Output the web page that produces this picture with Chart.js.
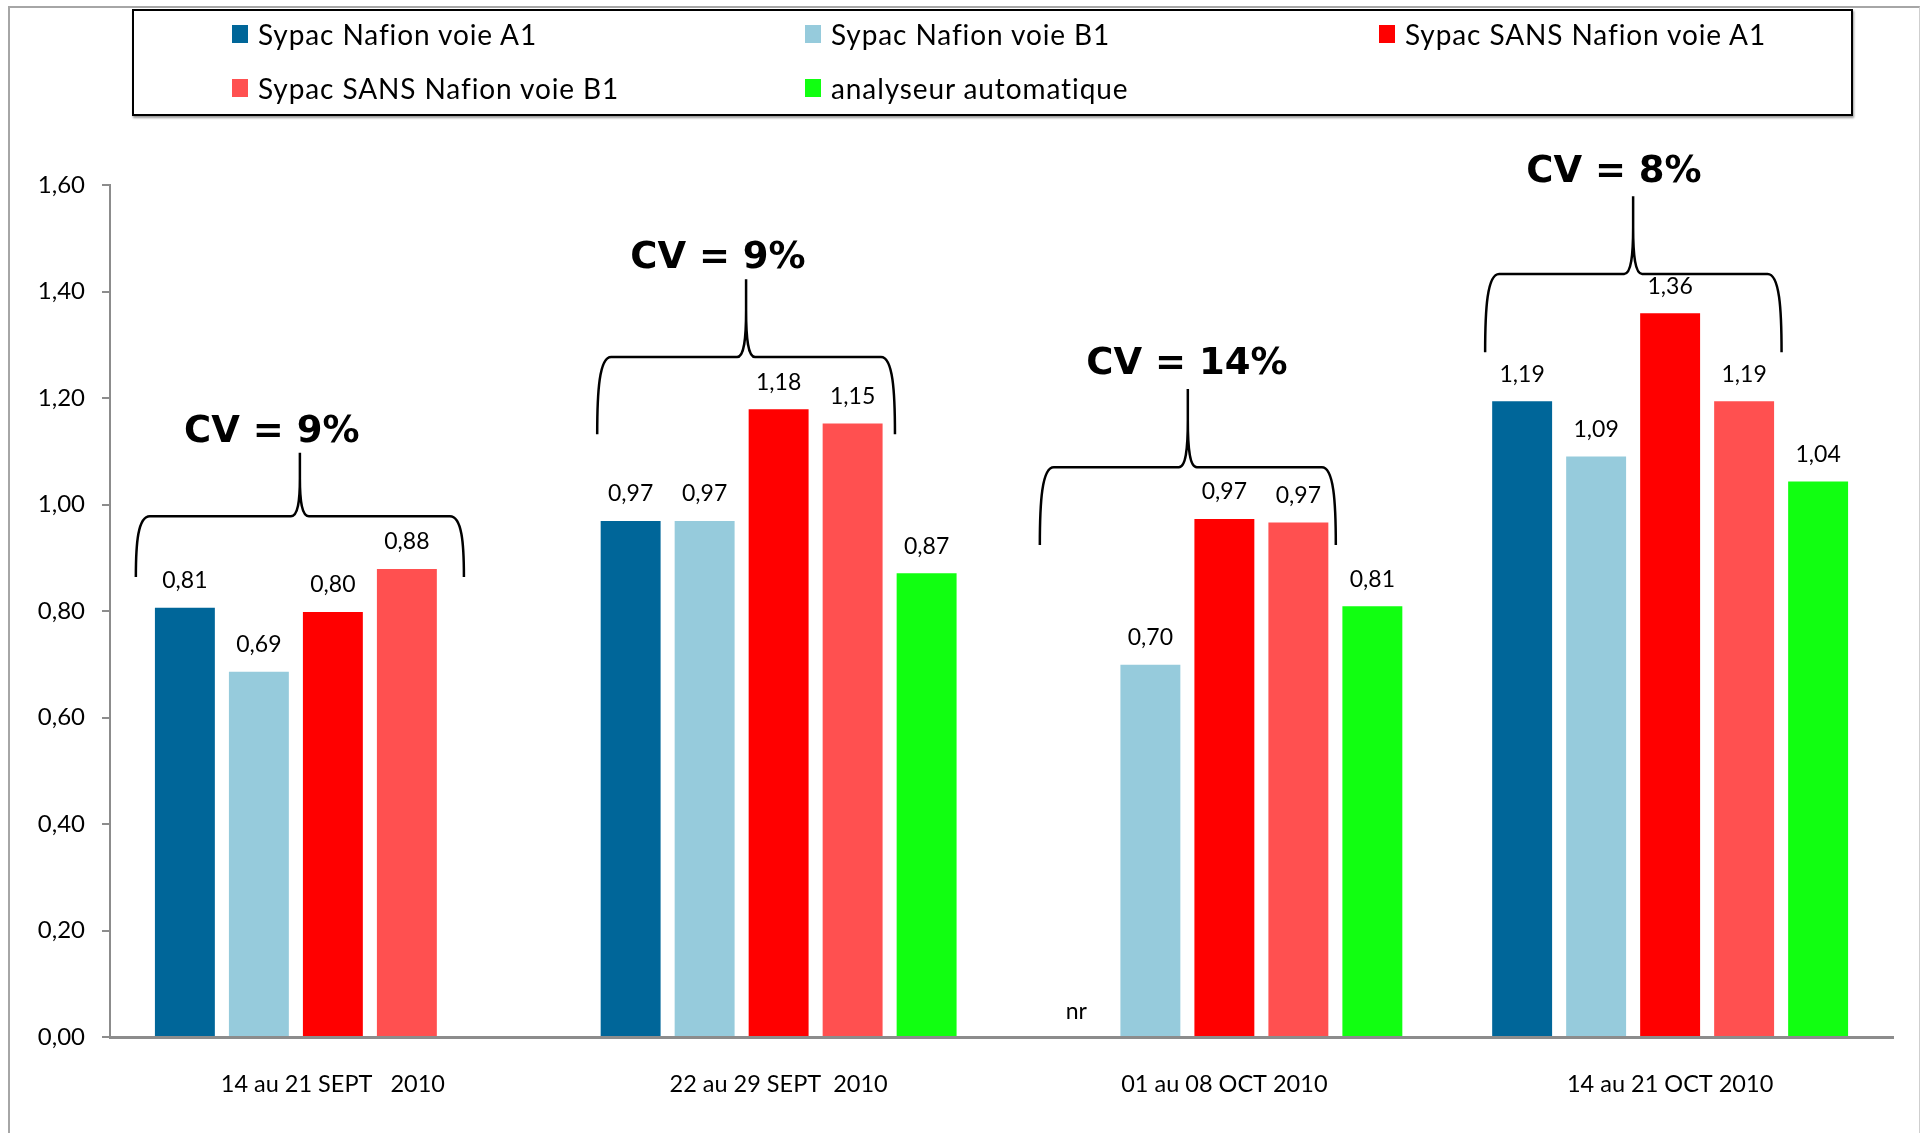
<!DOCTYPE html>
<html>
<head>
<meta charset="utf-8">
<script src="https://cdn.jsdelivr.net/npm/chart.js@4.4.0/dist/chart.umd.min.js"></script>
<style>
  html, body { margin: 0; padding: 0; background: #fff; overflow: hidden; }
  #wrap { position: relative; width: 1921px; height: 1133px; }
  #c { position: absolute; left: 0; top: 0; }
  #frame { position: absolute; left: 8px; top: 6px; width: 1909px; height: 1200px;
           border-top: 2px solid #a6a6a6; border-left: 2px solid #a6a6a6; border-right: 1px solid #cfcfcf;
           pointer-events: none; }
  #legend { position: absolute; left: 132px; top: 9px; width: 1717px; height: 103px;
            border: 2px solid #000; box-shadow: 1px 2px 2px #9a9a9a; background: transparent; pointer-events: none; }
  .li { position: absolute; display: flex; align-items: center; font-family: Lato, sans-serif; font-size: 28px;
        letter-spacing: 0.9px; font-variant-ligatures: none; color: #000; white-space: nowrap; }
  .sw { width: 16px; height: 18px; margin-right: 10px; }
</style>
</head>
<body>
<div id="wrap">
  <canvas id="c" width="1921" height="1133"></canvas>
  <div id="frame"></div>
  <div id="legend"></div>
</div>
<script>
// ---- data ----
const categories = ['14 au 21 SEPT   2010', '22 au 29 SEPT  2010', '01 au 08 OCT 2010', '14 au 21 OCT 2010'];
const seriesNames = ['Sypac Nafion voie A1', 'Sypac Nafion voie B1', 'Sypac SANS Nafion voie A1', 'Sypac SANS Nafion voie B1', 'analyseur automatique'];
const nafionA1 = [0.806, 0.969, null, 1.194];
const nafionB1 = [0.686, 0.969, 0.699, 1.090];
const sansNafionA1 = [0.798, 1.179, 0.973, 1.359];
const sansNafionB1 = [0.879, 1.152, 0.966, 1.194];
const analyseur = [null, 0.871, 0.809, 1.043];
const yTickLabels = ['0,00', '0,20', '0,40', '0,60', '0,80', '1,00', '1,20', '1,40', '1,60'];
const cvLabels = ['CV = 9%', 'CV = 9%', 'CV = 14%', 'CV = 8%'];
const missingNotes = [{ series: 0, index: 2, text: 'nr' }];

// ---- annotation geometry (category offsets / axis values) ----
const braceGeom = [
  { left: -0.442, right: 0.294, tip: -0.074, bottom: 0.864, mid: 0.978, top: 1.097, textX: -0.137, textY: 1.136 },
  { left: -0.407, right: 0.261, tip: -0.073, bottom: 1.132, mid: 1.277, top: 1.423, textX: -0.136, textY: 1.463 },
  { left: -0.414, right: 0.250, tip: -0.082, bottom: 0.924, mid: 1.070, top: 1.217, textX: -0.084, textY: 1.264 },
  { left: -0.415, right: 0.250, tip: -0.083, bottom: 1.286, mid: 1.433, top: 1.579, textX: -0.126, textY: 1.624 }
];

const colors = ['#006699', '#96CBDC', '#FF0000', '#FF5050', '#11FF11'];
const seriesData = [nafionA1, nafionB1, sansNafionA1, sansNafionB1, analyseur];

const fmt = v => v.toFixed(2).replace('.', ',');

const labelPlugin = {
  id: 'valueLabels',
  afterDatasetsDraw(chart) {
    const ctx = chart.ctx;
    const y0 = chart.scales.y.getPixelForValue(0);
    ctx.save();
    ctx.font = '23px Lato, sans-serif';
    ctx.fillStyle = '#000';
    ctx.textAlign = 'center';
    ctx.textBaseline = 'middle';
    chart.data.datasets.forEach((ds, i) => {
      const meta = chart.getDatasetMeta(i);
      meta.data.forEach((el, j) => {
        const v = ds.data[j];
        if (v !== null && v !== undefined) {
          ctx.fillText(fmt(v), el.x, el.y - 27);
        }
      });
    });
    missingNotes.forEach(n => {
      const el = chart.getDatasetMeta(n.series).data[n.index];
      ctx.fillText(n.text, el.x, y0 - 25);
    });
    ctx.restore();
  }
};

const bracePlugin = {
  id: 'braces',
  afterDatasetsDraw(chart) {
    const ctx = chart.ctx;
    const xs = chart.scales.x, ys = chart.scales.y;
    const cw = xs.getPixelForValue(1) - xs.getPixelForValue(0);
    ctx.save();
    ctx.strokeStyle = '#000';
    ctx.lineWidth = 2.5;
    ctx.lineJoin = 'round';
    braceGeom.forEach((g, i) => {
      const c = xs.getPixelForValue(i);
      const L = c + g.left * cw, R = c + g.right * cw, T = c + g.tip * cw;
      const yb = ys.getPixelForValue(g.bottom), yh = ys.getPixelForValue(g.mid), yt = ys.getPixelForValue(g.top);
      const h = yb - yh;
      const cusp = (yh - yt) * 0.6;
      ctx.beginPath();
      ctx.moveTo(L, yb);
      ctx.bezierCurveTo(L, yb - h * 0.55, L + 2, yh, L + 14, yh);
      ctx.lineTo(T - 9, yh);
      ctx.bezierCurveTo(T - 2, yh, T, yh - cusp * 0.4, T, yh - cusp);
      ctx.lineTo(T, yt);
      ctx.moveTo(T, yh - cusp);
      ctx.bezierCurveTo(T, yh - cusp * 0.4, T + 2, yh, T + 9, yh);
      ctx.lineTo(R - 14, yh);
      ctx.bezierCurveTo(R - 2, yh, R, yb - h * 0.55, R, yb);
      ctx.stroke();

      ctx.font = 'bold 37px "DejaVu Sans", sans-serif';
      ctx.fillStyle = '#000';
      ctx.textAlign = 'center';
      ctx.textBaseline = 'middle';
      ctx.fillText(cvLabels[i], c + g.textX * cw, ys.getPixelForValue(g.textY));
    });
    ctx.restore();
  }
};

const chart = new Chart(document.getElementById('c'), {
  type: 'bar',
  data: {
    labels: categories,
    datasets: seriesNames.map((name, i) => ({
      label: name,
      data: seriesData[i],
      backgroundColor: colors[i],
      borderWidth: 0,
      categoryPercentage: 0.83,
      barPercentage: 0.81
    }))
  },
  options: {
    responsive: false,
    animation: false,
    events: [],
    layout: { padding: { left: 10, top: 185, right: 28, bottom: 16 } },
    plugins: { legend: { display: false }, tooltip: { enabled: false } },
    scales: {
      x: {
        grid: { drawOnChartArea: false, drawTicks: false },
        border: { display: true, color: '#8c8c8c', width: 3 },
        ticks: { padding: 33, color: '#000', font: { family: 'Lato', size: 23.5 } },
        afterFit(s) { s.height = 80; }
      },
      y: {
        min: 0, max: 1.6,
        ticks: {
          stepSize: 0.2, padding: 17, color: '#000',
          font: { family: 'Lato', size: 24 },
          callback: (v, idx) => yTickLabels[idx]
        },
        grid: { drawOnChartArea: false, drawTicks: true, tickLength: 8, color: '#8c8c8c', lineWidth: 2 },
        border: { display: true, color: '#8c8c8c', width: 2 },
        afterFit(s) { s.width = 100; }
      }
    }
  },
  plugins: [labelPlugin, bracePlugin]
});

// HTML legend built from the chart datasets
const legend = document.getElementById('legend');
const colX = [98, 671, 1245];
const rowY = [23, 77];
chart.data.datasets.forEach((ds, i) => {
  const item = document.createElement('div');
  item.className = 'li';
  item.style.left = colX[i % 3] + 'px';
  item.style.top = (rowY[Math.floor(i / 3)] - 16) + 'px';
  item.style.height = '32px';
  const sw = document.createElement('span');
  sw.className = 'sw';
  sw.style.background = ds.backgroundColor;
  item.appendChild(sw);
  item.appendChild(document.createTextNode(ds.label));
  legend.appendChild(item);
});
</script>
</body>
</html>
